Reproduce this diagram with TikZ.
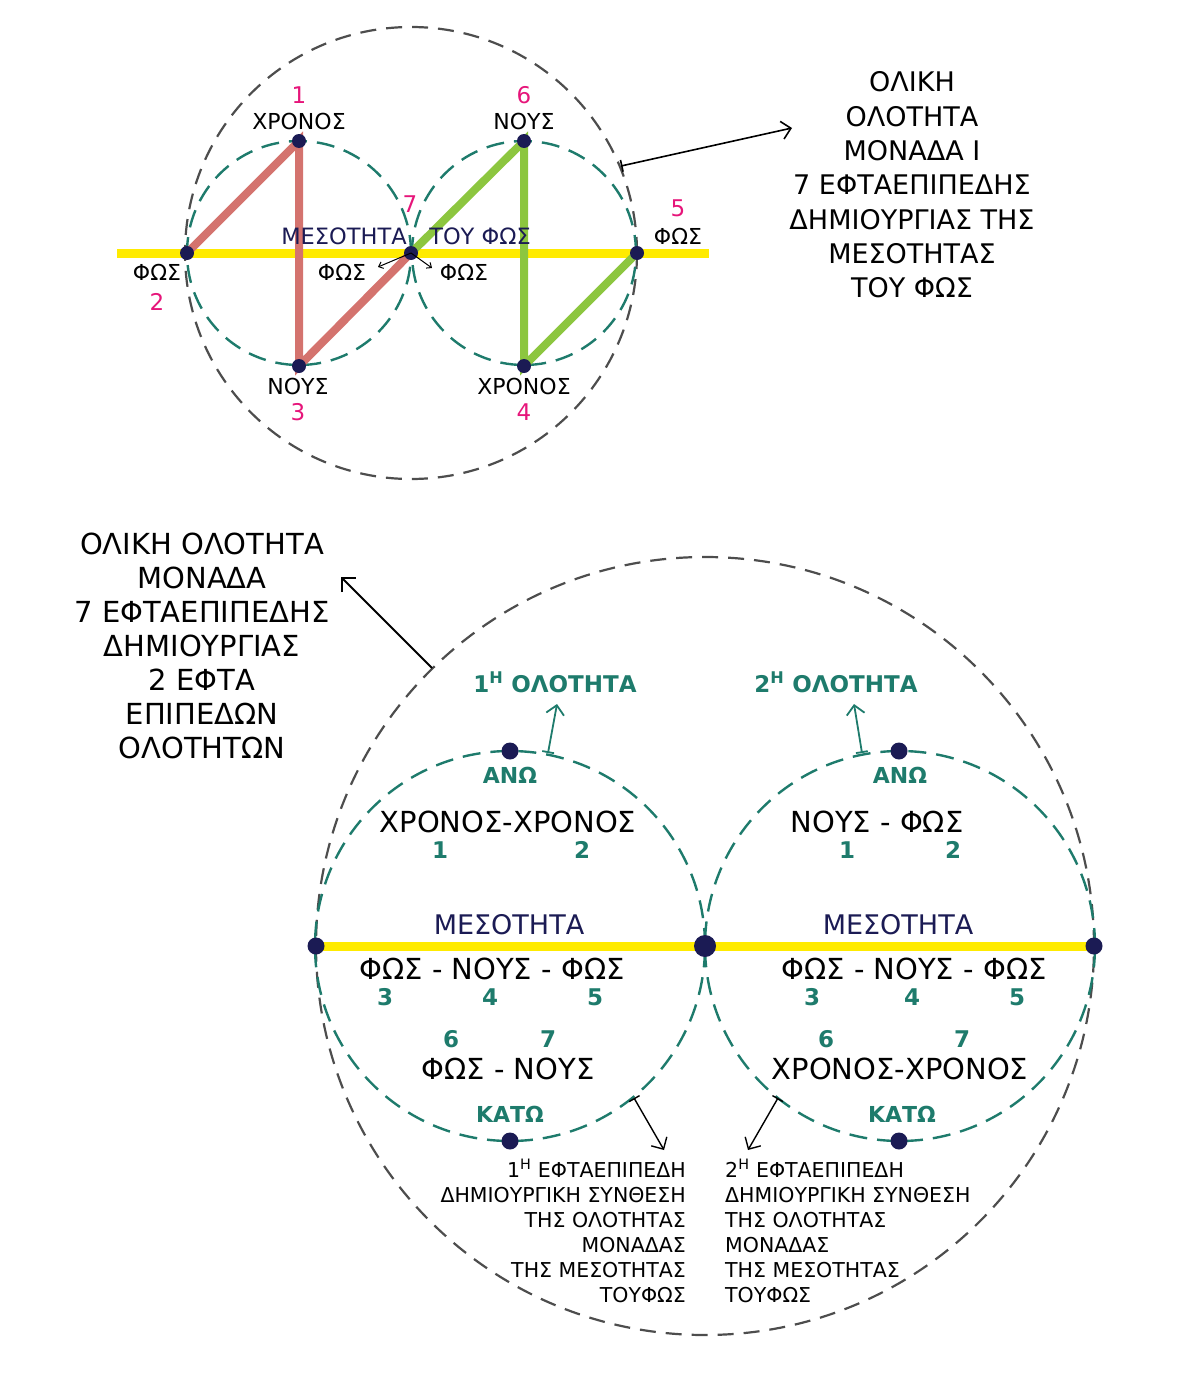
\documentclass[tikz,border=0pt]{standalone}
\usepackage{fontspec}
\setmainfont{DejaVu Sans}
\usetikzlibrary{arrows.meta}
\definecolor{navy}{HTML}{1B1B54}
\definecolor{teal2}{HTML}{1E7B6C}
\definecolor{pink2}{HTML}{E6157A}
\definecolor{salmon}{HTML}{D4736E}
\definecolor{lgreen}{HTML}{8CC63F}
\definecolor{yel}{HTML}{FFEB00}
\definecolor{grey2}{HTML}{4D4D4D}
\newcommand{\fs}[2]{\fontsize{#1}{#2}\selectfont}
\tikzset{
  dot/.style={circle,fill=navy,inner sep=0pt,minimum size=14pt},
  bigdot/.style={circle,fill=navy,inner sep=0pt,minimum size=20pt},
  greydash/.style={draw=grey2,line width=2.2pt,dash pattern=on 16pt off 10pt},
  tealdash/.style={draw=teal2,line width=2.4pt,dash pattern=on 18pt off 10pt},
  yline/.style={draw=yel,line width=9pt},
  rline/.style={draw=salmon,line width=8pt},
  gline/.style={draw=lgreen,line width=8pt},
  lbl/.style={inner sep=0pt,font=\fs{22}{24},text=black},
  num/.style={inner sep=0pt,font=\fs{23}{24},text=pink2},
  nvy/.style={inner sep=0pt,font=\fs{22.5}{24},text=navy},
  blk/.style={inner sep=0pt,align=center,text=black},
  tnum/.style={inner sep=0pt,font=\fs{23}{24}\bfseries,text=teal2},
  itx/.style={inner sep=0pt,font=\fs{29}{30},text=black},
  tlab/.style={inner sep=0pt,font=\fs{22}{24}\bfseries,text=teal2},
  ptr/.style={draw=black,line width=1.6pt,{Bar[width=12pt]}-{Straight Barb[length=9pt,width=18pt]}},
  tptr/.style={draw=teal2,line width=1.8pt,{Bar[width=12pt]}-{Straight Barb[length=9pt,width=18pt]}},
}
\begin{document}
\begin{tikzpicture}[x=1pt,y=-1pt]
\useasboundingbox (0,0) rectangle (1200,1381);
% ---------- top diagram ----------
\coordinate (tc) at (411,253);
\coordinate (cl) at (299,253);
\coordinate (cr) at (524,253);
\coordinate (yl) at (117,253);
\coordinate (yr) at (709,253);
\draw[yline] (yl) -- (yr);
\draw[greydash] (tc) circle[radius=226pt];
\draw[tealdash] (cl) circle[radius=112pt];
\draw[tealdash] (cr) circle[radius=112pt];
\coordinate (p1) at (299,141);
\coordinate (p2) at (187,253);
\coordinate (p3) at (299,366);
\coordinate (p6) at (524,141);
\coordinate (p4) at (524,366);
\coordinate (p5) at (637,253);
\draw[rline,line cap=round] (p2) -- (p1) -- (p3) -- (tc);
\draw[gline,line cap=round] (tc) -- (p6) -- (p4) -- (p5);
\foreach \n in {p1,p2,p3,p4,p5,p6,tc} \node[dot] (d\n) at (\n) {};
\coordinate (sa) at (378,267);
\coordinate (sb) at (432,268);
\draw[line width=1pt,-{Straight Barb[length=4pt,width=7pt]}] (dtc.center) -- (sa);
\draw[line width=1pt,-{Straight Barb[length=4pt,width=7pt]}] (dtc.center) -- (sb);
\node[num] (n1) at (299,95) {1};
\node[lbl] (l1) at (299,121) {ΧΡΟΝΟΣ};
\node[num] (n6) at (524,95) {6};
\node[lbl] (l6) at (524,121) {ΝΟΥΣ};
\node[num] (n7) at (410,204) {7};
\node[nvy] (lm) at (344,236) {ΜΕΣΟΤΗΤΑ};
\node[nvy] (lt) at (480,236) {ΤΟΥ ΦΩΣ};
\node[num] (n5) at (678,208) {5};
\node[lbl] (l5) at (678,236) {ΦΩΣ};
\node[lbl] (l2) at (157,272) {ΦΩΣ};
\node[num] (n2) at (157,302) {2};
\node[lbl] (la) at (342,272) {ΦΩΣ};
\node[lbl] (lb) at (464,272) {ΦΩΣ};
\node[lbl] (l3) at (298,386) {ΝΟΥΣ};
\node[num] (n3) at (298,412) {3};
\node[lbl] (l4) at (524,386) {ΧΡΟΝΟΣ};
\node[num] (n4) at (524,412) {4};
% right text block
\node[blk,font=\fs{27}{34.3}] (tb1) at (912,185) {ΟΛΙΚΗ\\ΟΛΟΤΗΤΑ\\ΜΟΝΑΔΑ Ι\\7 ΕΦΤΑΕΠΙΠΕΔΗΣ\\ΔΗΜΙΟΥΡΓΙΑΣ ΤΗΣ\\ΜΕΣΟΤΗΤΑΣ\\ΤΟΥ ΦΩΣ};
\coordinate (pa) at (621,166);
\draw[ptr] (pa) -- (792,128);
% ---------- bottom diagram ----------
\coordinate (bc) at (705,946);
\coordinate (bl) at (316,946);
\coordinate (br) at (1094,946);
\coordinate (ccl) at (510,946);
\coordinate (ccr) at (900,946);
\draw[yline] (bl) -- (br);
\draw[greydash] (bc) circle[radius=389pt];
\draw[tealdash] (ccl) circle[radius=195pt];
\draw[tealdash] (ccr) circle[radius=195pt];
\node[dot,minimum size=17pt] (dbl) at (bl) {};
\node[bigdot,minimum size=22pt] (dbc) at (bc) {};
\node[dot,minimum size=17pt] (dbr) at (br) {};
\node[dot,minimum size=17pt] (dtl) at (510,751) {};
\node[dot,minimum size=17pt] (dtr) at (899,751) {};
\node[dot,minimum size=17pt] (dbl2) at (510,1141) {};
\node[dot,minimum size=17pt] (dbr2) at (899,1141) {};
% top-left block
\node[blk,font=\fs{29}{34}] (tb2) at (202,646) {ΟΛΙΚΗ ΟΛΟΤΗΤΑ\\ΜΟΝΑΔΑ\\7 ΕΦΤΑΕΠΙΠΕΔΗΣ\\ΔΗΜΙΟΥΡΓΙΑΣ\\2 ΕΦΤΑ\\ΕΠΙΠΕΔΩΝ\\ΟΛΟΤΗΤΩΝ};
\coordinate (pb) at (432,668);
\draw[draw=black,line width=2pt,-{Straight Barb[length=10pt,width=20pt]}] (pb) -- (341,577);
% holotita labels
\node[inner sep=0pt,font=\fs{23}{24}\bfseries,text=teal2] (h1) at (555,682) {1\textsuperscript{Η} ΟΛΟΤΗΤΑ};
\node[inner sep=0pt,font=\fs{23}{24}\bfseries,text=teal2] (h2) at (836,682) {2\textsuperscript{Η} ΟΛΟΤΗΤΑ};
\coordinate (ta) at (548,753);
\coordinate (tb) at (862,753);
\draw[tptr] (ta) -- (557,704);
\draw[tptr] (tb) -- (854,704);
% inner texts left
\node[tlab] (an1) at (510,775) {ΑΝΩ};
\node[itx] (x1) at (508,822) {ΧΡΟΝΟΣ-ΧΡΟΝΟΣ};
\node[tnum] (a1) at (440,850) {1};
\node[tnum] (a2) at (582,850) {2};
\node[inner sep=0pt,font=\fs{27}{28},text=navy] (m1) at (509,925) {ΜΕΣΟΤΗΤΑ};
\node[itx] (f1) at (492,969) {ΦΩΣ - ΝΟΥΣ - ΦΩΣ};
\node[tnum] (a3) at (385,997) {3};
\node[tnum] (a4) at (490,997) {4};
\node[tnum] (a5) at (595,997) {5};
\node[tnum] (a6) at (451,1039) {6};
\node[tnum] (a7) at (548,1039) {7};
\node[itx] (f2) at (508,1069) {ΦΩΣ - ΝΟΥΣ};
\node[tlab] (k1) at (510,1114) {ΚΑΤΩ};
% inner texts right
\node[tlab] (an2) at (900,775) {ΑΝΩ};
\node[itx] (x2) at (877,822) {ΝΟΥΣ - ΦΩΣ};
\node[tnum] (b1) at (847,850) {1};
\node[tnum] (b2) at (953,850) {2};
\node[inner sep=0pt,font=\fs{27}{28},text=navy] (m2) at (898,925) {ΜΕΣΟΤΗΤΑ};
\node[itx] (f3) at (914,969) {ΦΩΣ - ΝΟΥΣ - ΦΩΣ};
\node[tnum] (b3) at (812,997) {3};
\node[tnum] (b4) at (912,997) {4};
\node[tnum] (b5) at (1017,997) {5};
\node[tnum] (b6) at (826,1039) {6};
\node[tnum] (b7) at (962,1039) {7};
\node[itx] (x3) at (900,1069) {ΧΡΟΝΟΣ-ΧΡΟΝΟΣ};
\node[tlab] (k2) at (902,1114) {ΚΑΤΩ};
% bottom pointers
\coordinate (qa) at (634,1098);
\coordinate (qb) at (778,1098);
\draw[ptr,line width=1.4pt] (qa) -- (664,1150);
\draw[ptr,line width=1.4pt] (qb) -- (748,1150);
\node[inner sep=0pt,align=right,anchor=north east,font=\fs{20.5}{25}] (bt1) at (686,1159) {1\textsuperscript{Η} ΕΦΤΑΕΠΙΠΕΔΗ\\ΔΗΜΙΟΥΡΓΙΚΗ ΣΥΝΘΕΣΗ\\ΤΗΣ ΟΛΟΤΗΤΑΣ\\ΜΟΝΑΔΑΣ\\ΤΗΣ ΜΕΣΟΤΗΤΑΣ\\ΤΟΥΦΩΣ};
\node[inner sep=0pt,align=left,anchor=north west,font=\fs{20.5}{25}] (bt2) at (725,1159) {2\textsuperscript{Η} ΕΦΤΑΕΠΙΠΕΔΗ\\ΔΗΜΙΟΥΡΓΙΚΗ ΣΥΝΘΕΣΗ\\ΤΗΣ ΟΛΟΤΗΤΑΣ\\ΜΟΝΑΔΑΣ\\ΤΗΣ ΜΕΣΟΤΗΤΑΣ\\ΤΟΥΦΩΣ};
\end{tikzpicture}
\end{document}
